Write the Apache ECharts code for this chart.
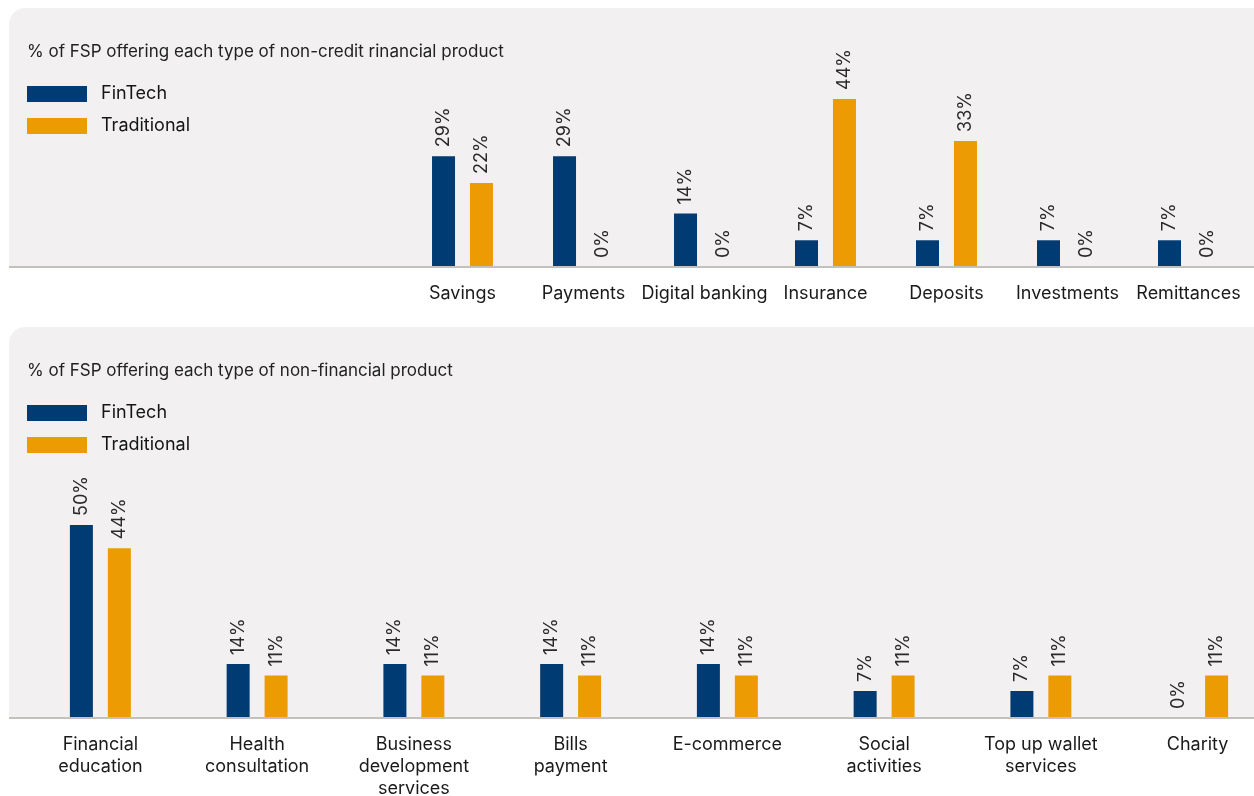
<!DOCTYPE html>
<html>
<head>
<meta charset="utf-8">
<script src="https://cdn.jsdelivr.net/npm/echarts@6/dist/echarts.min.js"></script>
<style>
html,body{margin:0;padding:0;background:#ffffff;}
#chart{width:1254px;height:796px;}
</style>
</head>
<body>
<div id="chart"></div>
<script>
// ---- Data ----
const seriesNames = ['FinTech', 'Traditional'];

const topTitle = '% of FSP offering each type of non-credit rinancial product';
const topCategories = ['Savings', 'Payments', 'Digital banking', 'Insurance', 'Deposits', 'Investments', 'Remittances'];
const topFinTech = [29, 29, 14, 7, 7, 7, 7];
const topTraditional = [22, 0, 0, 44, 33, 0, 0];

const bottomTitle = '% of FSP offering each type of non-financial product';
const bottomCategories = ['Financial\neducation', 'Health\nconsultation', 'Business\ndevelopment\nservices', 'Bills\npayment', 'E-commerce', 'Social\nactivities', 'Top up wallet\nservices', 'Charity'];
const bottomFinTech = [50, 14, 14, 14, 14, 7, 7, 0];
const bottomTraditional = [44, 11, 11, 11, 11, 11, 11, 11];

// ---- Style ----
const FONT = 'Inter, "Open Sans", sans-serif';
const C_FIN = '#013b74';
const C_TRAD = '#ec9c02';
const PANEL = '#f2f0f1';
const AXIS = '#c4c0bc';

const chart = echarts.init(document.getElementById('chart'), null, {renderer: 'canvas'});

const valueLabel = {
  show: true,
  position: 'top',
  rotate: 90,
  align: 'left',
  verticalAlign: 'middle',
  distance: 9,
  fontFamily: FONT,
  fontSize: 18,
  color: '#2a2a2a',
  formatter: p => p.value + '%'
};

function barSeries(name, data, idx, color) {
  return {
    type: 'bar',
    name: name,
    data: data,
    xAxisIndex: idx,
    yAxisIndex: idx,
    barWidth: 23,
    barGap: '65%',
    itemStyle: {color: color},
    label: valueLabel,
    z: 3
  };
}

function catAxis(gi, cats, margin) {
  return {
    type: 'category',
    gridIndex: gi,
    data: cats,
    axisLine: {show: false},
    axisTick: {show: false},
    axisLabel: {
      fontFamily: FONT,
      fontSize: 18,
      color: '#1a1a1a',
      margin: margin,
      lineHeight: 22,
      interval: 0
    }
  };
}

function valAxis(gi) {
  return {
    type: 'value',
    gridIndex: gi,
    min: 0,
    max: 50,
    show: false,
    splitLine: {show: false}
  };
}

const legendCommon = {
  orient: 'vertical',
  left: 27,
  padding: 0,
  itemWidth: 60,
  itemHeight: 16,
  itemGap: 14,
  icon: 'rect',
  data: seriesNames,
  selectedMode: false,
  textStyle: {fontFamily: FONT, fontSize: 18, lineHeight: 16, color: '#151515', padding: [0, 0, 0, 9]}
};

const titleStyle = {fontFamily: FONT, fontSize: 17, fontWeight: 'normal', color: '#222'};

const option = {
  backgroundColor: '#ffffff',
  animation: false,
  title: [
    {text: topTitle, left: 27, top: 43, padding: 0, textStyle: titleStyle},
    {text: bottomTitle, left: 27, top: 362, padding: 0, textStyle: titleStyle}
  ],
  legend: [
    Object.assign({}, legendCommon, {top: 85}),
    Object.assign({}, legendCommon, {top: 404})
  ],
  graphic: [
    {type: 'rect', z: -10, shape: {x: 9, y: 8, width: 1280, height: 259, r: [16, 0, 0, 0]}, style: {fill: PANEL}},
    {type: 'rect', z: -10, shape: {x: 9, y: 327, width: 1280, height: 391, r: [16, 0, 0, 0]}, style: {fill: PANEL}},
    {type: 'line', z: 10, shape: {x1: 9, y1: 267, x2: 1254, y2: 267}, style: {stroke: AXIS, lineWidth: 2}},
    {type: 'line', z: 10, shape: {x1: 9, y1: 718, x2: 1254, y2: 718}, style: {stroke: AXIS, lineWidth: 2}}
  ],
  grid: [
    {left: 402, width: 847, top: 76, height: 191, outerBoundsMode: 'none', containLabel: false},
    {left: 22, width: 1254, top: 525, height: 193, outerBoundsMode: 'none', containLabel: false}
  ],
  xAxis: [catAxis(0, topCategories, 16), catAxis(1, bottomCategories, 16)],
  yAxis: [valAxis(0), valAxis(1)],
  series: [
    barSeries(seriesNames[0], topFinTech, 0, C_FIN),
    barSeries(seriesNames[1], topTraditional, 0, C_TRAD),
    barSeries(seriesNames[0], bottomFinTech, 1, C_FIN),
    barSeries(seriesNames[1], bottomTraditional, 1, C_TRAD)
  ]
};

chart.setOption(option);
</script>
</body>
</html>
